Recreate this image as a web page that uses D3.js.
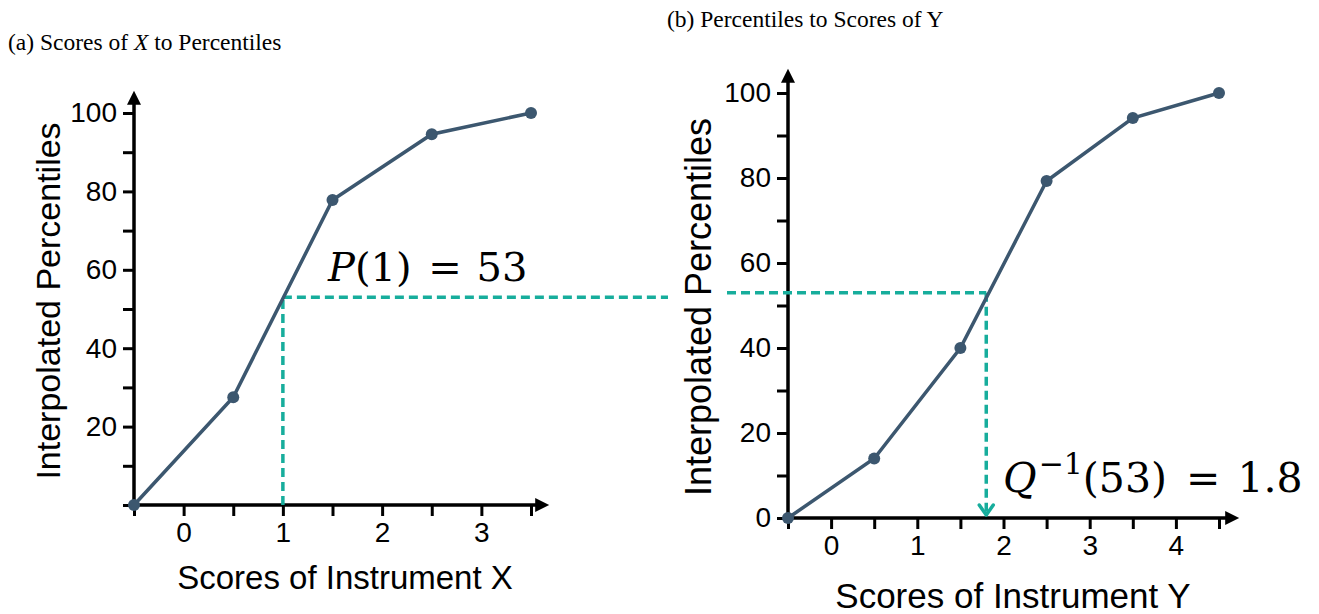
<!DOCTYPE html>
<html>
<head>
<meta charset="utf-8">
<script src="https://cdn.jsdelivr.net/npm/d3@7"></script>
<style>
body { margin: 0; background: #fff; }
.sans { font-family: "Liberation Sans", Arial, sans-serif; }
.math { font-family: "DejaVu Serif", "Liberation Serif", serif; }
.title { font-family: "Liberation Serif", "Times New Roman", serif; }
</style>
</head>
<body>
<div id="chart"></div>
<script>
const width = 1319, height = 614;

// data
const scoresX = [-0.5, 0.5, 1.5, 2.5, 3.5];
const percentilesX = [0, 27.5, 77.8, 94.6, 100];
const scoresY = [-0.5, 0.5, 1.5, 2.5, 3.5, 4.5];
const percentilesY = [0, 14, 40, 79.3, 94.1, 100];
const xTicksLeft = d3.range(-0.5, 3.51, 0.5);
const xTicksRight = d3.range(-0.5, 4.51, 0.5);
const yTicks = d3.range(0, 101, 10);
const pX = 1, pValue = 53, qValue = 1.8;

const lineColor = "#3c576f", teal = "#17ad9c";

const svg = d3.select("#chart")
	.append("svg")
	.attr("width", width)
	.attr("height", height);

const defs = svg.append("defs");
defs.append("marker")
	.attr("id", "axisArrow")
	.attr("viewBox", "0 0 10 10")
	.attr("refX", 2).attr("refY", 5)
	.attr("markerUnits", "userSpaceOnUse")
	.attr("markerWidth", 15).attr("markerHeight", 14)
	.attr("orient", "auto")
	.append("path")
	.attr("d", "M0,0 L10,5 L0,10 Z")
	.attr("fill", "#000");

// draw one panel
function panel(opt) {
	const x = d3.scaleLinear().domain(opt.xDomain).range(opt.xRange);
	const y = d3.scaleLinear().domain([0, 100]).range(opt.yRange);
	const g = svg.append("g").attr("class", "sans");

	// y axis
	const yAxis = g.append("g")
		.attr("transform", `translate(${opt.xRange[0]},0)`)
		.call(d3.axisLeft(y).tickValues(yTicks).tickSize(11).tickPadding(6)
			.tickFormat(d => (d % 20 === 0 && (d > 0 || opt.showZero)) ? d : ""));
	yAxis.attr("font-family", null);
	yAxis.select(".domain").remove();
	yAxis.selectAll("line").attr("stroke", "#000").attr("stroke-width", 3);
	yAxis.selectAll("text").attr("font-size", opt.tickSize).attr("fill", "#000");

	// x axis
	const xAxis = g.append("g")
		.attr("transform", `translate(0,${opt.yRange[0]})`)
		.call(d3.axisBottom(x).tickValues(opt.xTicks).tickSize(11).tickPadding(6)
			.tickFormat(d => Number.isInteger(d) ? d : ""));
	xAxis.attr("font-family", null);
	xAxis.select(".domain").remove();
	xAxis.selectAll("line").attr("stroke", "#000").attr("stroke-width", 3);
	xAxis.selectAll("text").attr("font-size", opt.tickSize).attr("fill", "#000");

	// axis lines with arrows
	g.append("line")
		.attr("x1", opt.xRange[0]).attr("y1", opt.yRange[0])
		.attr("x2", opt.xRange[0]).attr("y2", opt.yTop + 14)
		.attr("stroke", "#000").attr("stroke-width", 3.5)
		.attr("marker-end", "url(#axisArrow)");
	g.append("line")
		.attr("x1", opt.xRange[0] - 1.5).attr("y1", opt.yRange[0])
		.attr("x2", opt.xEnd - 14).attr("y2", opt.yRange[0])
		.attr("stroke", "#000").attr("stroke-width", 3.5)
		.attr("marker-end", "url(#axisArrow)");

	// axis labels
	g.append("text")
		.attr("transform", `translate(${opt.yLabelX},${opt.yLabelY}) rotate(-90)`)
		.attr("text-anchor", "middle")
		.attr("font-size", opt.yLabelSize)
		.text("Interpolated Percentiles");
	g.append("text")
		.attr("x", opt.xLabelX).attr("y", opt.xLabelY)
		.attr("text-anchor", "middle")
		.attr("font-size", opt.xLabelSize)
		.text(opt.xLabel);

	return { g, x, y };
}

const left = panel({
	xDomain: [-0.5, 3.5], xRange: [134, 531], yRange: [505, 113],
	yTop: 88, xEnd: 552, xTicks: xTicksLeft, showZero: false,
	tickSize: 28, yLabelSize: 34, xLabelSize: 33,
	yLabelX: 60, yLabelY: 301, xLabelX: 345, xLabelY: 589,
	xLabel: "Scores of Instrument X"
});

const right = panel({
	xDomain: [-0.5, 4.5], xRange: [788, 1219], yRange: [518, 93],
	yTop: 66, xEnd: 1242, xTicks: xTicksRight, showZero: true,
	tickSize: 28, yLabelSize: 36, xLabelSize: 35,
	yLabelX: 711, yLabelY: 307, xLabelX: 1013, xLabelY: 608,
	xLabel: "Scores of Instrument Y"
});

// dashed guide lines (drawn under the curves)
const dash = "9,5";
left.g.append("line")
	.attr("x1", left.x(pX)).attr("y1", left.y(0))
	.attr("x2", left.x(pX)).attr("y2", left.y(pValue))
	.attr("stroke", teal).attr("stroke-width", 3.5).attr("stroke-dasharray", dash);
left.g.append("line")
	.attr("x1", left.x(pX)).attr("y1", left.y(pValue))
	.attr("x2", 668).attr("y2", left.y(pValue))
	.attr("stroke", teal).attr("stroke-width", 3.5).attr("stroke-dasharray", dash);

right.g.append("line")
	.attr("x1", 727).attr("y1", right.y(pValue))
	.attr("x2", right.x(qValue)).attr("y2", right.y(pValue))
	.attr("stroke", teal).attr("stroke-width", 3.5).attr("stroke-dasharray", dash);
right.g.append("line")
	.attr("x1", right.x(qValue)).attr("y1", right.y(pValue))
	.attr("x2", right.x(qValue)).attr("y2", right.y(0) - 4)
	.attr("stroke", teal).attr("stroke-width", 3.5).attr("stroke-dasharray", dash);
// open arrow head on the vertical guide
right.g.append("path")
	.attr("d", d3.line()([
		[right.x(qValue) - 7, right.y(0) - 13],
		[right.x(qValue), right.y(0) - 3],
		[right.x(qValue) + 7, right.y(0) - 13]
	]))
	.attr("fill", "none").attr("stroke", teal).attr("stroke-width", 3.5)
	.attr("stroke-linecap", "round").attr("stroke-linejoin", "round");

// curves with dots
function curve(p, xs, ys) {
	const pts = xs.map((d, i) => [d, ys[i]]);
	p.g.append("path")
		.datum(pts)
		.attr("d", d3.line().x(d => p.x(d[0])).y(d => p.y(d[1])))
		.attr("fill", "none")
		.attr("stroke", lineColor)
		.attr("stroke-width", 3.5);
	p.g.selectAll(".dot")
		.data(pts)
		.enter()
		.append("circle")
		.attr("cx", d => p.x(d[0]))
		.attr("cy", d => p.y(d[1]))
		.attr("r", 6)
		.attr("fill", lineColor);
}
curve(left, scoresX, percentilesX);
curve(right, scoresY, percentilesY);

// math annotations
const pText = svg.append("text")
	.attr("class", "math")
	.attr("x", 328).attr("y", 281)
	.attr("font-size", 40);
pText.append("tspan").attr("font-style", "italic").text("P");
pText.append("tspan").text(`(${pX})`);
pText.append("tspan").attr("dx", 4).text(" = ");
pText.append("tspan").attr("dx", 2).text(pValue);

const qText = svg.append("text")
	.attr("class", "math")
	.attr("x", 1003).attr("y", 492)
	.attr("font-size", 41);
qText.append("tspan").attr("font-style", "italic").text("Q");
qText.append("tspan").attr("font-size", 30).attr("dx", 2).attr("dy", -18).text("−1");
qText.append("tspan").attr("dy", 18).text(`(${pValue})`);
qText.append("tspan").attr("dx", 6).text(" = ");
qText.append("tspan").attr("dx", 4).text(qValue);

// panel titles
const ta = svg.append("text")
	.attr("class", "title")
	.attr("x", 8).attr("y", 50)
	.attr("font-size", 23.5);
ta.append("tspan").text("(a) Scores of ");
ta.append("tspan").attr("font-style", "italic").text("X");
ta.append("tspan").text(" to Percentiles");

svg.append("text")
	.attr("class", "title")
	.attr("x", 667).attr("y", 27)
	.attr("font-size", 23.5)
	.text("(b) Percentiles to Scores of Y");
</script>
</body>
</html>
